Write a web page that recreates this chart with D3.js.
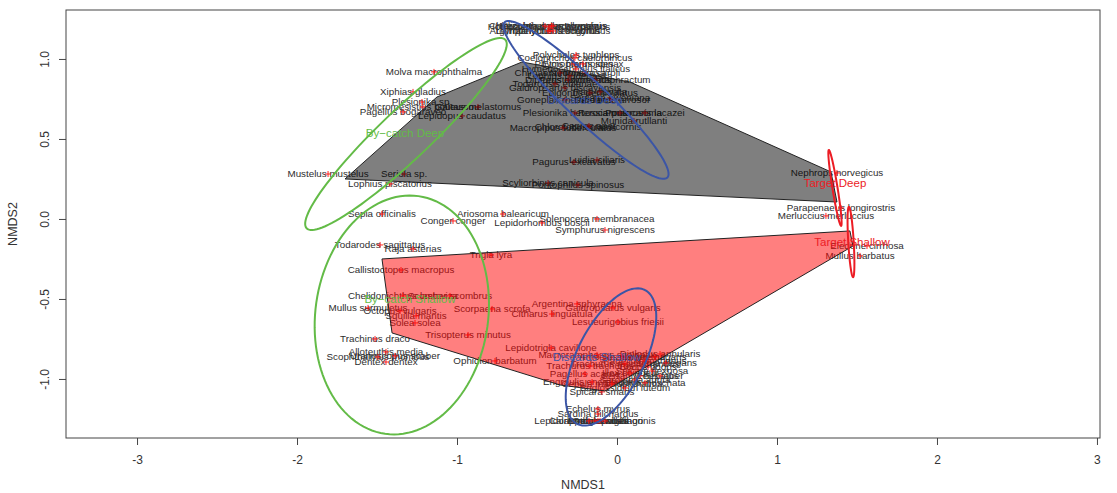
<!DOCTYPE html>
<html><head><meta charset="utf-8">
<script src="https://cdn.jsdelivr.net/npm/d3@7"></script>
<style>
body{margin:0;background:#fff;}
svg{display:block;font-family:"Liberation Sans",Arial,Helvetica,sans-serif;}
</style></head>
<body><svg id="chart" width="1117" height="493"></svg>
<script>
// ---------------- DATA ----------------
const species = [
 "Chlorophthalmus agassizi","Helicolenus dactylopterus","Hoplostethus mediterraneus","Nezumia sclerorhynchus",
 "Lampanyctus crocodilus","Argyropelecus hemigymnus","Trachyrincus scabrus",
 "Polycheles typhlops","Coelorinchus caelorhincus","Phycis blennoides","Etmopterus spinax","Hymenocephalus italicus",
 "Neorossia caroli","Chimaera monstrosa","Lophius budegassa","Dipturus oxyrinchus","Peristedion cataphractum",
 "Todaropsis eblanae","Gaidropsarus biscayensis","Epigonus denticulatus","Raja clavata","Goneplax rhomboides",
 "Sepietta oweniana","Dardanus arrosor","Plesionika heterocarpus","Rossia macrosoma","Pontocaris lacazei",
 "Munida rutllanti","Macropipus tuberculatus","Chlorotocus crassicornis","Capros aper","Pagurus excavatus",
 "Luidia ciliaris","Scyliorhinus canicula","Pontophilus spinosus",
 "Molva macrophthalma","Xiphias gladius","Plesionika sp.","Micromesistius poutassou","Galeus melastomus",
 "Pagellus bogaraveo","Lepidopus caudatus","Mustelus mustelus","Seriola sp.","Lophius piscatorius",
 "Sepia officinalis","Conger conger","Ariosoma balearicum","Lepidorhombus boscii","Solenocera membranacea",
 "Symphurus nigrescens","Todarodes sagittatus","Raja asterias","Trigla lyra","Callistoctopus macropus",
 "Chelidonichthys lastoviza","Scomber scombrus","Mullus surmuletus","Octopus vulgaris","Squilla mantis",
 "Solea solea","Scorpaena scrofa","Citharus linguatula","Argentina sphyraena","Gaidropsarus vulgaris",
 "Lesueurigobius friesii","Trisopterus minutus","Trachinus draco","Alloteuthis media","Scophthalmus rhombus",
 "Uranoscopus scaber","Dentex dentex","Ophidion barbatum","Lepidotrigla cavillone",
 "Nephrops norvegicus","Parapenaeus longirostris","Merluccius merluccius","Eledone cirrhosa","Mullus barbatus",
 "Macroramphosus scolopax","Arnoglossus laterna","Loligo vulgaris","Diplodus annularis","Pagellus erythrinus",
 "Trachurus trachurus","Trachurus mediterraneus","Boops boops","Sepia elegans","Spicara flexuosa",
 "Pagellus acarne","Illex coindetii","Serranus hepatus","Zeus faber","Engraulis encrasicolus",
 "Cepola macrophthalma","Sardinella aurita","Eledone moschata","Buglossidium luteum","Spicara smaris",
 "Echelus myrus","Sardina pilchardus","Lepidorhombus whiffiagonis","Calappa granulata","Gobius niger",
 "Arnoglossus thori","Bothus podas"
];
const nmds1 = [
 -0.45,-0.41,-0.425,-0.40,
 -0.43,-0.419,-0.40,
 -0.256,-0.263,-0.269,-0.213,-0.256,
 -0.20,-0.356,-0.294,-0.306,-0.1375,
 -0.3875,-0.325,-0.169,-0.106,-0.325,
 -0.044,-0.031,-0.2625,0.019,0.175,
 0.106,-0.3375,-0.181,-0.175,-0.269,
 -0.125,-0.431,-0.244,
 -1.144,-1.275,-1.219,-1.2125,-0.869,
 -1.3375,-0.969,-1.806,-1.331,-1.419,
 -1.469,-1.025,-0.7125,-0.469,-0.125,
 -0.075,-1.481,-1.275,-0.7875,-1.35,
 -1.3375,-1.044,-1.556,-1.356,-1.256,
 -1.2625,-0.781,-0.406,-0.25,-0.025,
 0.006,-0.931,-1.5125,-1.444,-1.494,
 -1.3875,-1.444,-0.7625,-0.4125,
 1.375,1.40,1.306,1.5625,1.519,
 -0.125,0.031,0.2375,0.269,0.175,
 -0.169,0.05,0.194,0.306,0.219,
 -0.20,0.081,0.144,0.269,-0.156,
 -0.031,0.1125,0.175,0.05,-0.094,
 -0.119,-0.119,-0.1375,-0.175,-0.106,
 -0.075,-0.119
];
const nmds2 = [
 1.206,1.206,1.20,1.206,
 1.175,1.175,1.175,
 1.025,1.006,0.969,0.969,0.9375,
 0.9125,0.9125,0.894,0.869,0.869,
 0.844,0.819,0.7875,0.794,0.744,
 0.756,0.744,0.6625,0.6625,0.6625,
 0.6125,0.569,0.575,0.581,0.356,
 0.369,0.225,0.2125,
 0.919,0.794,0.731,0.70,0.70,
 0.669,0.644,0.281,0.281,0.219,
 0.031,-0.0125,0.031,-0.025,0.0,
 -0.069,-0.1625,-0.1875,-0.225,-0.319,
 -0.481,-0.481,-0.556,-0.575,-0.606,
 -0.65,-0.5625,-0.594,-0.531,-0.556,
 -0.644,-0.725,-0.75,-0.831,-0.8625,
 -0.856,-0.894,-0.8875,-0.806,
 0.2875,0.069,0.019,-0.169,-0.231,
 -0.85,-0.8625,-0.8625,-0.844,-0.8875,
 -0.919,-0.906,-0.925,-0.90,-0.95,
 -0.969,-0.9625,-0.981,-0.981,-1.019,
 -1.031,-1.006,-1.025,-1.056,-1.081,
 -1.1875,-1.219,-1.2625,-1.2625,-1.2625,
 -1.2625,-1.2625
];

// convex hulls (depth strata)
const hullDeepX    = [-1.70,-1.125,-0.594,0.081,1.3375,1.375];
const hullDeepY    = [0.25,0.7625,0.981,0.856,0.294,0.106];
const hullShallowX = [-1.469,1.456,1.475,-0.075,-0.356,-1.406];
const hullShallowY = [-0.25,-0.075,-0.169,-1.075,-1.0375,-0.7125];

// dispersion ellipses per group
const groupNames = ["By\u2212catch Deep","By\u2212catch Shallow","Discards Deep","Discards Shallow","Target Deep","Target Shallow"];
const ellCx    = [-1.319,-1.345,-0.194,-0.0375,1.3625,1.4625];
const ellCy    = [0.531,-0.60,0.744,-0.8625,0.194,-0.144];
const ellA     = [0.856,0.75,0.703,0.469,0.24,0.22];
const ellB     = [0.156,0.54,0.125,0.21,0.016,0.017];
const ellAngle = [43.5,82.0,136.4,63.1,99.2,93.4];
const labelX   = [-1.325,-1.294,-0.20,-0.125,1.3625,1.469];
const labelY   = [0.5375,-0.50,0.744,-0.8625,0.225,-0.144];

const xTicks = [-3,-2,-1,0,1,2,3];
const yTicks = [-1.0,-0.5,0.0,0.5,1.0];

// ---------------- STYLE ----------------
const groupColor = ["#63bb47","#63bb47","#3b55a6","#3b55a6","#ec1c24","#ec1c24"];
const box = {l:66, r:1100, t:10, b:438};

const svg = d3.select("#chart");
svg.append("rect").attr("width",1117).attr("height",493).attr("fill","#fff");

const x = d3.scaleLinear().domain([-3.444,3.019]).range([box.l,box.r]);
const y = d3.scaleLinear().domain([-1.369,1.306]).range([box.b,box.t]);

svg.append("clipPath").attr("id","clip").append("rect")
  .attr("x",box.l).attr("y",box.t).attr("width",box.r-box.l).attr("height",box.b-box.t);
const plot = svg.append("g").attr("clip-path","url(#clip)");

// species labels
const sp = species.map((s,i)=>({name:s,x:nmds1[i],y:nmds2[i]}));
plot.append("g").selectAll("text").data(sp).join("text")
  .attr("x",d=>x(d.x)).attr("y",d=>y(d.y))
  .attr("dy","0.35em").attr("text-anchor","middle")
  .attr("font-size","9.8px").attr("fill","#2e2e2e")
  .text(d=>d.name);
// red + markers
plot.append("g").selectAll("path").data(sp).join("path")
  .attr("d",d=>`M${x(d.x)-3},${y(d.y)}h6M${x(d.x)},${y(d.y)-3}v6`)
  .attr("stroke","#ff1010").attr("stroke-width",0.9).attr("fill","none");

// hulls
const line = d3.line().x(d=>x(d[0])).y(d=>y(d[1]));
const deep = hullDeepX.map((v,i)=>[v,hullDeepY[i]]);
const shallow = hullShallowX.map((v,i)=>[v,hullShallowY[i]]);
plot.append("path").attr("d",line(deep)+"Z").attr("fill","rgba(0,0,0,0.5)")
  .attr("stroke","#222").attr("stroke-width",1);
plot.append("path").attr("d",line(shallow)+"Z").attr("fill","rgba(255,0,0,0.5)")
  .attr("stroke","#222").attr("stroke-width",1);

// ellipses
groupNames.forEach((g,i)=>{
  const th = ellAngle[i]*Math.PI/180, pts=[];
  for(let k=0;k<=120;k++){
    const t=k/120*2*Math.PI;
    const dx=ellA[i]*Math.cos(t), dy=ellB[i]*Math.sin(t);
    pts.push([ellCx[i]+dx*Math.cos(th)-dy*Math.sin(th), ellCy[i]+dx*Math.sin(th)+dy*Math.cos(th)]);
  }
  plot.append("path").attr("d",line(pts)+"Z").attr("fill","none")
    .attr("stroke",groupColor[i]).attr("stroke-width",2);
});
// group labels
plot.append("g").selectAll("text").data(groupNames).join("text")
  .attr("x",(d,i)=>x(labelX[i])).attr("y",(d,i)=>y(labelY[i]))
  .attr("dy","0.35em").attr("text-anchor","middle")
  .attr("font-size","11.5px").attr("fill",(d,i)=>groupColor[i])
  .text(d=>d);

// axes
const fmtY = d=>(d<0?"-":"")+Math.abs(d).toFixed(1);
const fmtX = d=>(d<0?"-":"")+Math.abs(d);
const gx = svg.append("g").attr("transform",`translate(0,${box.b})`)
  .call(d3.axisBottom(x).tickValues(xTicks).tickSize(7).tickPadding(10).tickFormat(fmtX));
const gy = svg.append("g").attr("transform",`translate(${box.l},0)`)
  .call(d3.axisLeft(y).tickValues(yTicks).tickSize(7).tickPadding(6).tickFormat(fmtY));
[gx,gy].forEach(g=>{
  g.select(".domain").remove();
  g.selectAll("line").attr("stroke","#444");
  g.selectAll("text").attr("font-size","12px").attr("fill","#333")
   .attr("font-family","'Liberation Sans',Arial,sans-serif");
});
gy.selectAll(".tick text").attr("transform","rotate(-90)")
  .attr("x",0).attr("dy",0).attr("text-anchor","middle").attr("y",-17);
svg.append("rect").attr("x",box.l).attr("y",box.t).attr("width",box.r-box.l).attr("height",box.b-box.t)
  .attr("fill","none").attr("stroke","#444").attr("stroke-width",1);

svg.append("text").attr("x",(box.l+box.r)/2).attr("y",489).attr("text-anchor","middle")
  .attr("font-size","12.5px").attr("fill","#333").text("NMDS1");
svg.append("text").attr("transform",`translate(17,${(box.t+box.b)/2}) rotate(-90)`)
  .attr("text-anchor","middle").attr("font-size","12.5px").attr("fill","#333").text("NMDS2");
</script></body></html>
